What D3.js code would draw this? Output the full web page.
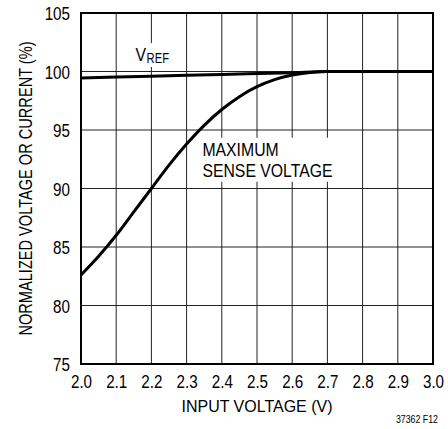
<!DOCTYPE html>
<html>
<head>
<meta charset="utf-8">
<script src="https://cdn.jsdelivr.net/npm/d3@7"></script>
<style>
body { margin: 0; background: #fff; }
svg text { font-family: "Liberation Sans", Arial, sans-serif; fill: #000; }
</style>
</head>
<body>
<div id="chart"></div>
<script>
var xTicks = [2.0, 2.1, 2.2, 2.3, 2.4, 2.5, 2.6, 2.7, 2.8, 2.9, 3.0];
var yTicks = [75, 80, 85, 90, 95, 100, 105];

var senseX = [2.0, 2.05, 2.1, 2.15, 2.2, 2.25, 2.3, 2.35, 2.4, 2.45, 2.5, 2.55, 2.6, 2.65, 2.7, 2.8, 2.9, 3.0];
var senseY = [82.6, 84.2, 86.0, 88.0, 90.0, 92.0, 93.8, 95.4, 96.75, 97.85, 98.7, 99.3, 99.7, 99.92, 100, 100, 100, 100];
var vrefX = [2.0, 2.2, 2.4, 2.6, 2.7, 2.8, 3.0];
var vrefY = [99.45, 99.6, 99.75, 99.9, 100, 100, 100];

var width = 448, height = 429;
var margin = {left: 81, right: 15, top: 13, bottom: 65};

var svg = d3.select("#chart").append("svg")
    .attr("width", width)
    .attr("height", height);

var x = d3.scaleLinear().domain([2.0, 3.0]).range([margin.left, width - margin.right]);
var y = d3.scaleLinear().domain([75, 105]).range([height - margin.bottom, margin.top]);

// narrow the font like the original condensed type
function narrow(sel, k) {
    k = k || 0.8;
    sel.each(function() {
        var w = this.getComputedTextLength();
        d3.select(this).attr("textLength", w * k).attr("lengthAdjust", "spacingAndGlyphs");
    });
}

// grid
svg.append("g").selectAll("line")
    .data(xTicks.slice(1, -1))
    .enter().append("line")
    .attr("x1", function(d) { return x(d); })
    .attr("x2", function(d) { return x(d); })
    .attr("y1", y(75)).attr("y2", y(105))
    .attr("stroke", "#222").attr("stroke-width", 1);
svg.append("g").selectAll("line")
    .data(yTicks.slice(1, -1))
    .enter().append("line")
    .attr("y1", function(d) { return y(d); })
    .attr("y2", function(d) { return y(d); })
    .attr("x1", x(2.0)).attr("x2", x(3.0))
    .attr("stroke", "#222").attr("stroke-width", 1);

// labels with white box over grid
function label(lines, lx, ly, sub) {
    var g = svg.append("g");
    lines.forEach(function(s, i) {
        var t = g.append("text")
            .attr("x", x(lx)).attr("y", y(ly) + i * 21)
            .style("font-size", "19px")
            .text(s)
            .call(narrow, 0.83);
        if (sub) {
            var w = t.node().getComputedTextLength();
            g.append("text")
                .attr("x", x(lx) + w + 0.5).attr("y", y(ly) + 2)
                .style("font-size", "14px")
                .text(sub)
                .call(narrow, 0.8);
        }
    });
    var b = g.node().getBBox();
    g.insert("rect", "text")
        .attr("x", b.x - 4).attr("y", b.y - 1)
        .attr("width", b.width + 8).attr("height", b.height + 2)
        .attr("fill", "#fff");
}

label(["V"], 2.155, 100.9, "REF");
label(["MAXIMUM", "SENSE VOLTAGE"], 2.345, 92.8);

var line = d3.line()
    .x(function(d) { return x(d[0]); })
    .y(function(d) { return y(d[1]); })
    .curve(d3.curveMonotoneX);

svg.append("path")
    .datum(vrefX.map(function(v, i) { return [v, vrefY[i]]; }))
    .attr("d", line)
    .attr("fill", "none").attr("stroke", "#000").attr("stroke-width", 3);
svg.append("path")
    .datum(senseX.map(function(v, i) { return [v, senseY[i]]; }))
    .attr("d", line)
    .attr("fill", "none").attr("stroke", "#000").attr("stroke-width", 3);

// frame
svg.append("rect")
    .attr("x", x(2.0)).attr("y", y(105))
    .attr("width", x(3.0) - x(2.0)).attr("height", y(75) - y(105))
    .attr("fill", "none").attr("stroke", "#000").attr("stroke-width", 2);

// axes
var xAxis = svg.append("g")
    .attr("transform", "translate(0," + y(75) + ")")
    .call(d3.axisBottom(x).tickValues(xTicks).tickFormat(d3.format(".1f")).tickSize(0).tickPadding(11));
var yAxis = svg.append("g")
    .attr("transform", "translate(" + x(2.0) + ",0)")
    .call(d3.axisLeft(y).tickValues(yTicks).tickSize(0).tickPadding(11));
[xAxis, yAxis].forEach(function(a) {
    a.select(".domain").remove();
    a.selectAll("text").style("font-size", "19px").attr("font-family", null).call(narrow, 0.8);
});
yAxis.selectAll("text").attr("dy", "0.36em");

svg.append("text")
    .attr("x", 257).attr("y", 412)
    .attr("text-anchor", "middle")
    .style("font-size", "17px")
    .text("INPUT VOLTAGE (V)")
    .call(narrow, 0.94);

svg.append("text")
    .attr("transform", "translate(32," + ((y(75) + y(105)) / 2) + ") rotate(-90)")
    .attr("text-anchor", "middle")
    .style("font-size", "18px")
    .text("NORMALIZED VOLTAGE OR CURRENT (%)")
    .call(narrow, 0.81);

svg.append("text")
    .attr("x", 438).attr("y", 423)
    .attr("text-anchor", "end")
    .style("font-size", "11px")
    .text("37362 F12")
    .call(narrow, 0.8);
</script>
</body>
</html>
